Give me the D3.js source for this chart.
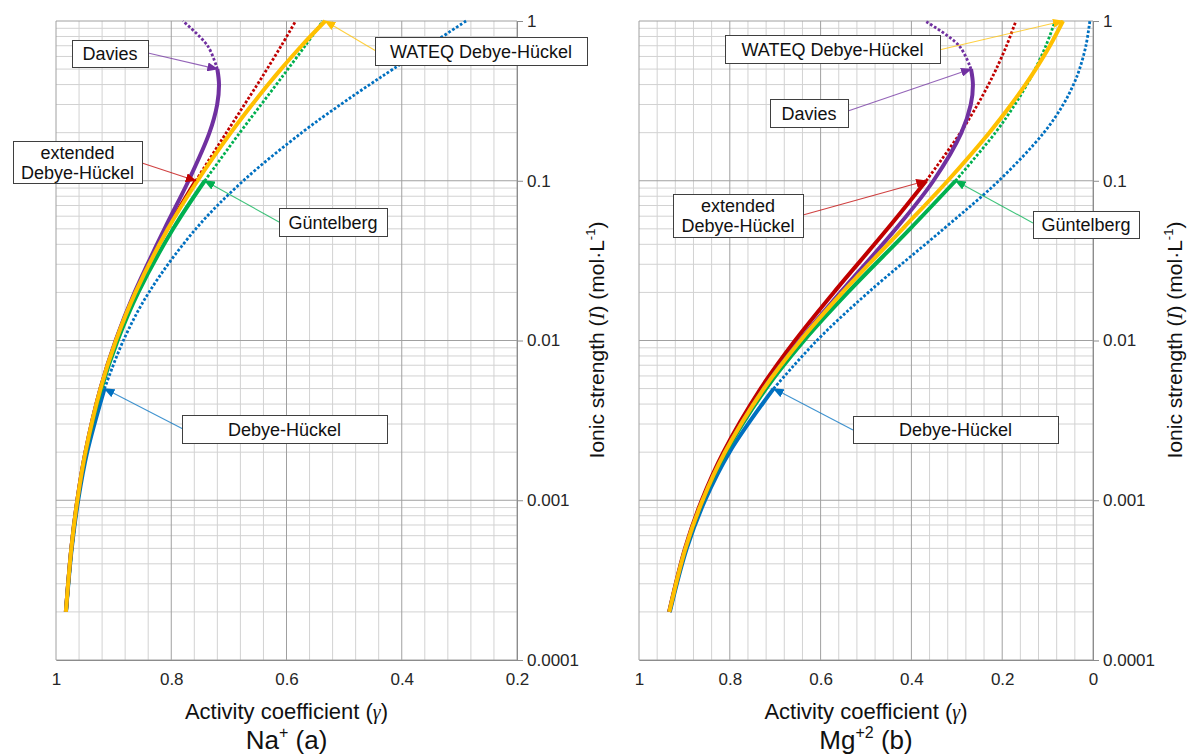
<!DOCTYPE html>
<html>
<head>
<meta charset="utf-8">
<script src="https://cdn.jsdelivr.net/npm/d3@7"></script>
<style>
  body { margin: 0; background: #fff; }
  svg { font-family: "Liberation Sans", Arial, sans-serif; }
</style>
</head>
<body>
<svg id="chart" width="1189" height="756"></svg>
<script>
// ionic strength (mol/L) at which the curves were read
const ionicStrength = [0.0002, 0.0005, 0.001, 0.002, 0.005, 0.01, 0.02, 0.05, 0.1, 0.2, 0.3, 0.4, 0.5, 0.7, 1];

// Na+ activity coefficients
const naDebyeHuckel = [0.9826, 0.9726, 0.9615, 0.9459, 0.9158, 0.8831, 0.8388, 0.7573, 0.6749, 0.5735, 0.5061, 0.4555, 0.4151, 0.3534, 0.2884];
const naExtended    = [0.9829, 0.9734, 0.9630, 0.9488, 0.9227, 0.8959, 0.8622, 0.8066, 0.7574, 0.7044, 0.6729, 0.6507, 0.6338, 0.6091, 0.5841];
const naGuntelberg  = [0.9828, 0.9732, 0.9626, 0.9482, 0.9212, 0.8931, 0.8572, 0.7967, 0.7418, 0.6810, 0.6440, 0.6177, 0.5975, 0.5676, 0.5370];
const naDavies      = [0.9829, 0.9734, 0.9630, 0.9489, 0.9229, 0.8965, 0.8636, 0.8117, 0.7700, 0.7337, 0.7203, 0.7171, 0.7200, 0.7369, 0.7798];
const naWateq       = [0.9829, 0.9734, 0.9630, 0.9489, 0.9228, 0.8960, 0.8621, 0.8057, 0.7544, 0.6965, 0.6595, 0.6319, 0.6095, 0.5738, 0.5328];

// Mg+2 activity coefficients
const mgDebyeHuckel = [0.9321, 0.8948, 0.8545, 0.8006, 0.7035, 0.6081, 0.4949, 0.3289, 0.2075, 0.1082, 0.0656, 0.0430, 0.0297, 0.0156, 0.0069];
const mgExtended    = [0.9337, 0.8986, 0.8618, 0.8140, 0.7321, 0.6562, 0.5710, 0.4528, 0.3674, 0.2920, 0.2541, 0.2302, 0.2133, 0.1905, 0.1698];
const mgGuntelberg  = [0.9330, 0.8969, 0.8586, 0.8082, 0.7200, 0.6363, 0.5400, 0.4030, 0.3027, 0.2150, 0.1720, 0.1456, 0.1274, 0.1038, 0.0832];
const mgDavies      = [0.9333, 0.8976, 0.8599, 0.8107, 0.7254, 0.6458, 0.5563, 0.4342, 0.3514, 0.2898, 0.2692, 0.2645, 0.2687, 0.2949, 0.3698];
const mgWateq       = [0.9333, 0.8977, 0.8600, 0.8107, 0.7250, 0.6442, 0.5517, 0.4193, 0.3200, 0.2284, 0.1802, 0.1488, 0.1261, 0.0949, 0.0661];

// validity limit of each model (solid up to here, dotted above)
const modelNames = ["Debye-Hückel", "extended Debye-Hückel", "Güntelberg", "Davies", "WATEQ Debye-Hückel"];
const modelLimits = [0.005, 0.1, 0.1, 0.5, 1];
const modelColors = ["#0070C0", "#C00000", "#00B050", "#7030A0", "#FFC000"];

const yTicks = [1, 0.1, 0.01, 0.001, 0.0001];
const yTickLabels = ["1", "0.1", "0.01", "0.001", "0.0001"];
const naXTicks = [1, 0.8, 0.6, 0.4, 0.2];
const mgXTicks = [1, 0.8, 0.6, 0.4, 0.2, 0];

const svg = d3.select("#chart");

const defs = svg.append("defs");
modelColors.forEach((c, i) => {
    defs.append("marker")
        .attr("id", "arrow" + i)
        .attr("markerUnits", "userSpaceOnUse")
        .attr("markerWidth", 11)
        .attr("markerHeight", 9)
        .attr("refX", 10)
        .attr("refY", 4.5)
        .attr("orient", "auto")
        .append("path")
        .attr("d", "M0,0 L11,4.5 L0,9 z")
        .attr("fill", c);
});

const panels = [
    {
        left: 56, right: 517, domain: [1, 0.2], xTicks: naXTicks,
        series: [naDebyeHuckel, naExtended, naGuntelberg, naDavies, naWateq],
        ion: "Na", charge: "+", tag: " (a)", ylabelX: 604,
        notes: [
            {m: 3, box: [72, 40, 76, 27], from: [148, 53], lines: ["Davies"]},
            {m: 1, box: [13, 141, 129, 42], from: [142, 163], lines: ["extended", "Debye-Hückel"]},
            {m: 2, box: [279, 208, 108, 28], from: [279, 222], lines: ["Güntelberg"]},
            {m: 4, box: [375, 37, 212, 28], from: [376, 51], lines: ["WATEQ Debye-Hückel"]},
            {m: 0, box: [182, 415, 205, 28], from: [183, 429], lines: ["Debye-Hückel"]}
        ]
    },
    {
        left: 639, right: 1093, domain: [1, 0], xTicks: mgXTicks,
        series: [mgDebyeHuckel, mgExtended, mgGuntelberg, mgDavies, mgWateq],
        ion: "Mg", charge: "+2", tag: " (b)", ylabelX: 1182,
        notes: [
            {m: 4, box: [725, 35, 215, 28], from: [939, 50], lines: ["WATEQ Debye-Hückel"]},
            {m: 3, box: [770, 99, 78, 28], from: [848, 111], lines: ["Davies"]},
            {m: 1, box: [673, 194, 130, 43], from: [803, 215], lines: ["extended", "Debye-Hückel"]},
            {m: 2, box: [1033, 211, 106, 27], from: [1033, 223], lines: ["Güntelberg"]},
            {m: 0, box: [853, 416, 205, 27], from: [853, 430], lines: ["Debye-Hückel"]}
        ]
    }
];

const plotTop = 21, plotBottom = 660;
const y = d3.scaleLog().domain([0.0001, 1]).range([plotBottom, plotTop]);

panels.forEach(p => {
    const x = d3.scaleLinear().domain(p.domain).range([p.left, p.right]);
    const g = svg.append("g");

    // grid lines
    const lo = Math.min(...p.domain), hi = Math.max(...p.domain);
    const n = Math.round((hi - lo) / 0.04);
    const vLines = d3.range(0, n + 1).map(i => +(lo + i * 0.04).toFixed(2));
    const hMinor = [];
    [0.0001, 0.001, 0.01, 0.1].forEach(d => {
        for (let k = 2; k <= 9; k++) hMinor.push(d * k);
    });

    g.selectAll(".vminor").data(vLines.filter(v => Math.abs(v * 5 - Math.round(v * 5)) > 1e-6))
        .enter().append("line")
        .attr("x1", d => x(d)).attr("x2", d => x(d))
        .attr("y1", plotTop).attr("y2", plotBottom)
        .attr("stroke", "#d2d2d2");
    g.selectAll(".hminor").data(hMinor)
        .enter().append("line")
        .attr("x1", p.left).attr("x2", p.right)
        .attr("y1", d => y(d)).attr("y2", d => y(d))
        .attr("stroke", "#d2d2d2");
    g.selectAll(".vmajor").data(p.xTicks)
        .enter().append("line")
        .attr("x1", d => x(d)).attr("x2", d => x(d))
        .attr("y1", plotTop).attr("y2", plotBottom)
        .attr("stroke", "#a0a0a0");
    g.selectAll(".hmajor").data(yTicks)
        .enter().append("line")
        .attr("x1", p.left).attr("x2", p.right)
        .attr("y1", d => y(d)).attr("y2", d => y(d))
        .attr("stroke", "#a0a0a0");

    // axes
    const yAxis = g.append("g")
        .attr("transform", `translate(${p.right},0)`)
        .call(d3.axisRight(y).tickValues(yTicks).tickSize(6).tickPadding(4)
            .tickFormat((d, i) => yTickLabels[i]));
    const xAxis = g.append("g")
        .attr("transform", `translate(0,${plotBottom})`)
        .call(d3.axisBottom(x).tickValues(p.xTicks).tickSize(0).tickPadding(13)
            .tickFormat(d3.format("~g")));
    [yAxis, xAxis].forEach(a => {
        a.select(".domain").attr("stroke", "#8c8c8c");
        a.selectAll(".tick line").attr("stroke", "#8c8c8c");
        a.selectAll("text").attr("font-size", 17).attr("fill", "#262626")
            .attr("font-family", "Liberation Sans, Arial, sans-serif");
    });

    // curves
    const line = d3.line()
        .x(d => x(d.g))
        .y(d => y(d.I))
        .curve(d3.curveCatmullRom.alpha(0.5));

    p.series.forEach((vals, m) => {
        const pts = ionicStrength.map((I, i) => ({I: I, g: vals[i]}));
        const lim = modelLimits[m];
        const solid = pts.filter(d => d.I <= lim + 1e-9);
        const dotted = pts.filter(d => d.I >= lim - 1e-9);
        if (dotted.length > 1) {
            g.append("path").attr("d", line(dotted))
                .attr("fill", "none").attr("stroke", modelColors[m])
                .attr("stroke-width", 2.8).attr("stroke-dasharray", "2.7 1.9");
        }
        g.append("path").attr("d", line(solid))
            .attr("fill", "none").attr("stroke", modelColors[m])
            .attr("stroke-width", 4).attr("stroke-linejoin", "round");
    });

    // callouts
    p.notes.forEach(nt => {
        const lim = modelLimits[nt.m];
        const idx = ionicStrength.indexOf(lim);
        const tx = x(p.series[nt.m][idx]), ty = y(lim);
        g.append("line")
            .attr("x1", nt.from[0]).attr("y1", nt.from[1])
            .attr("x2", tx).attr("y2", ty)
            .attr("stroke", modelColors[nt.m]).attr("stroke-opacity", 0.75)
            .attr("stroke-width", 1.1)
            .attr("marker-end", `url(#arrow${nt.m})`);
        const [bx, by, bw, bh] = nt.box;
        g.append("rect")
            .attr("x", bx + 0.5).attr("y", by + 0.5).attr("width", bw).attr("height", bh)
            .attr("fill", "#fff").attr("stroke", "#3f3f3f").attr("stroke-width", 1);
        const t = g.append("text")
            .attr("x", bx + bw / 2)
            .attr("text-anchor", "middle")
            .attr("font-size", 18).attr("fill", "#111");
        nt.lines.forEach((s, i) => {
            t.append("tspan").attr("x", bx + bw / 2)
                .attr("y", by + bh / 2 + 6.5 + (i - (nt.lines.length - 1) / 2) * 20)
                .text(s);
        });
    });

    // titles
    const cx = (p.left + p.right) / 2;
    const xt = g.append("text").attr("x", cx).attr("y", 719)
        .attr("text-anchor", "middle").attr("font-size", 22).attr("fill", "#111");
    xt.append("tspan").text("Activity coefficient (");
    xt.append("tspan").attr("font-family", "Liberation Serif, Times New Roman, serif")
        .attr("font-style", "italic").attr("font-size", 20).text("γ");
    xt.append("tspan").text(")");

    const pt = g.append("text").attr("x", cx).attr("y", 749)
        .attr("text-anchor", "middle").attr("font-size", 26).attr("fill", "#111");
    pt.append("tspan").text(p.ion);
    pt.append("tspan").attr("font-size", 16).attr("dy", -11).text(p.charge);
    pt.append("tspan").attr("dy", 11).text(p.tag);

    const yt = g.append("text")
        .attr("transform", `translate(${p.ylabelX},340) rotate(-90)`)
        .attr("text-anchor", "middle").attr("font-size", 21).attr("fill", "#111");
    yt.append("tspan").text("Ionic strength (");
    yt.append("tspan").attr("font-family", "Liberation Serif, Times New Roman, serif")
        .attr("font-style", "italic").text("I");
    yt.append("tspan").text(") (mol·L");
    yt.append("tspan").attr("font-size", 13).attr("dy", -9).text("-1");
    yt.append("tspan").attr("dy", 9).text(")");
});
</script>
</body>
</html>
